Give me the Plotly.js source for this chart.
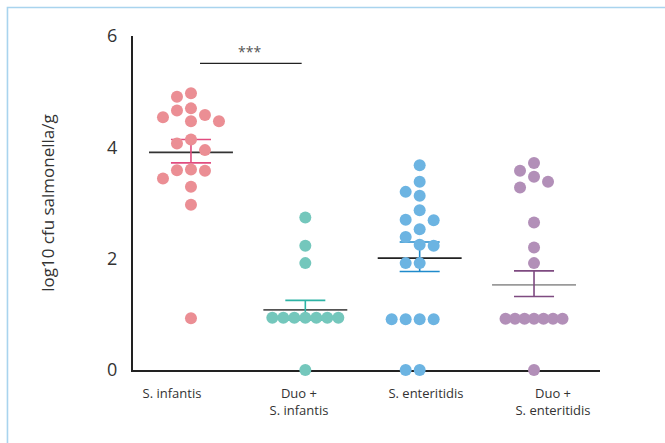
<!DOCTYPE html>
<html>
<head>
<meta charset="utf-8">
<script src="https://cdn.plot.ly/plotly-3.0.1.min.js"></script>
<style>
  html, body { margin: 0; padding: 0; background: #ffffff; }
  #chart { width: 665px; height: 443px; }
</style>
</head>
<body>
<div id="chart"></div>
<script>
// ---------- data ----------
const categories = ['S. infantis', 'Duo +<br>S. infantis', 'S. enteritidis', 'Duo +<br>S. enteritidis'];
const infantis = [4.97, 4.91, 4.70, 4.66, 4.58, 4.54, 4.47, 4.47, 4.14, 4.07, 3.95, 3.60, 3.59, 3.58, 3.44, 3.29, 2.97, 0.93];
const duoInfantis = [2.74, 2.23, 1.92, 0.94, 0.94, 0.94, 0.94, 0.94, 0.94, 0.94, 0];
const enteritidis = [3.68, 3.38, 3.20, 3.13, 2.87, 2.70, 2.69, 2.53, 2.39, 2.25, 2.23, 1.92, 1.92, 0.91, 0.91, 0.91, 0.91, 0, 0];
const duoEnteritidis = [3.72, 3.58, 3.47, 3.38, 3.28, 2.65, 2.20, 1.92, 0.92, 0.92, 0.92, 0.92, 0.92, 0.92, 0.92, 0];
const means = [3.91, 1.08, 2.01, 1.53];
const errUpper = [4.14, 1.25, 2.30, 1.78];
const errLower = [3.72, 0.90, 1.77, 1.32];
const yTicks = [0, 2, 4, 6];
const significance = '***';

// ---------- styling ----------
const groups = [infantis, duoInfantis, enteritidis, duoEnteritidis];
const dotColors = ['#EB8E94', '#74C7BC', '#6CB4E2', '#B28FB8'];
const errColors = ['#E14C7F', '#2EB3A5', '#1F8ACB', '#7E4A80'];
const meanColors = ['#333333', '#555555', '#222222', '#9a9a9a'];
const tieSteps = [14, 11, 14, 9.5];

const W = 665, H = 443;
const margin = {l: 133, r: 65, t: 36, b: 73, pad: 0};
const xRange = [-0.507, 3.577];
const yRange = [0, 6];
const plotW = W - margin.l - margin.r;
const plotH = H - margin.t - margin.b;
const pxX = plotW / (xRange[1] - xRange[0]);
const pxY = plotH / (yRange[1] - yRange[0]);
const font = '"Open Sans", "DejaVu Sans", sans-serif';

// simple beeswarm layout computed in pixel space
function swarm(values, gi) {
  const step = 14, D = 12.5, tieStep = tieSteps[gi];
  const sorted = values.slice().sort((a, b) => b - a);
  const placed = [];
  const xs = [], ys = [];
  sorted.forEach(v => {
    const yp = v * pxY;
    const tie = placed.some(p => p.v === v);
    const st = tie ? tieStep : step;
    for (let k = 0; k < 60; k++) {
      const slot = k === 0 ? 0 : (k % 2 === 1 ? -(k + 1) / 2 : k / 2);
      const xo = slot * st;
      const ok = placed.every(p => {
        const dx = p.x - xo, dy = p.y - yp;
        if (tie && p.v === v) return Math.abs(dx) >= tieStep - 0.01;
        return dx * dx + dy * dy >= D * D - 0.01;
      });
      if (ok) { placed.push({x: xo, y: yp, v: v}); xs.push(gi + xo / pxX); ys.push(v); break; }
    }
  });
  return {x: xs, y: ys};
}

const traces = [];
const meanHalf = 0.367, capHalf = 0.175;
groups.forEach((vals, i) => {
  traces.push({
    type: 'scatter', mode: 'lines', x: [i - meanHalf, i + meanHalf], y: [means[i], means[i]],
    line: {color: meanColors[i], width: 1.6}, hoverinfo: 'skip', showlegend: false, cliponaxis: false
  });
  traces.push({
    type: 'scatter', mode: 'lines',
    x: [i, i, null, i - capHalf, i + capHalf, null, i - capHalf, i + capHalf],
    y: [errLower[i], errUpper[i], null, errUpper[i], errUpper[i], null, errLower[i], errLower[i]],
    line: {color: errColors[i], width: 1.6}, hoverinfo: 'skip', showlegend: false, cliponaxis: false
  });
});
groups.forEach((vals, i) => {
  const s = swarm(vals, i);
  traces.push({
    type: 'scatter', mode: 'markers', x: s.x, y: s.y,
    marker: {size: 12, color: dotColors[i], line: {width: 0}},
    showlegend: false, cliponaxis: false, name: categories[i].replace('<br>', ' ')
  });
});

// label positions (in axis units, relative to the group columns)
const labelPos = [-0.166, 0.944, 2.055, 3.166];

const layout = {
  width: W, height: H, margin: margin,
  paper_bgcolor: '#ffffff', plot_bgcolor: '#ffffff',
  showlegend: false,
  font: {family: font, color: '#333333'},
  xaxis: {
    range: xRange, fixedrange: true, showgrid: false, zeroline: false,
    showline: true, linecolor: '#222222', linewidth: 2, layer: 'below traces',
    tickmode: 'array', tickvals: labelPos, ticktext: categories, ticks: '',
    tickfont: {size: 13, color: '#333333', family: font}, ticklabelstandoff: 10
  },
  yaxis: {
    range: yRange, fixedrange: true, showgrid: false, zeroline: false,
    showline: true, linecolor: '#222222', linewidth: 2, layer: 'below traces',
    tickmode: 'array', tickvals: yTicks, ticktext: yTicks.map(String), ticks: '',
    tickfont: {size: 18, color: '#333333', family: font}, ticklabelstandoff: 10,
    title: {text: 'log10 cfu salmonella/g', font: {size: 17, color: '#333333', family: font}, standoff: 48}
  },
  shapes: [
    {type: 'line', xref: 'x', yref: 'y', x0: 0.079, x1: 0.968, y0: 5.51, y1: 5.51,
     line: {color: '#222222', width: 1.3}},
    {type: 'rect', xref: 'paper', yref: 'paper', x0: -0.2688, x1: 1.2, y0: -0.3, y1: 1.0853,
     line: {color: '#A9D4EE', width: 1.6}, fillcolor: 'rgba(0,0,0,0)'}
  ],
  annotations: [
    {xref: 'x', yref: 'y', x: 0.516, y: 5.73, text: significance, showarrow: false,
     font: {size: 14, color: '#555555', family: font}, xanchor: 'center', yanchor: 'middle'}
  ]
};

Plotly.newPlot('chart', traces, layout, {displayModeBar: false, staticPlot: true});
</script>
</body>
</html>
